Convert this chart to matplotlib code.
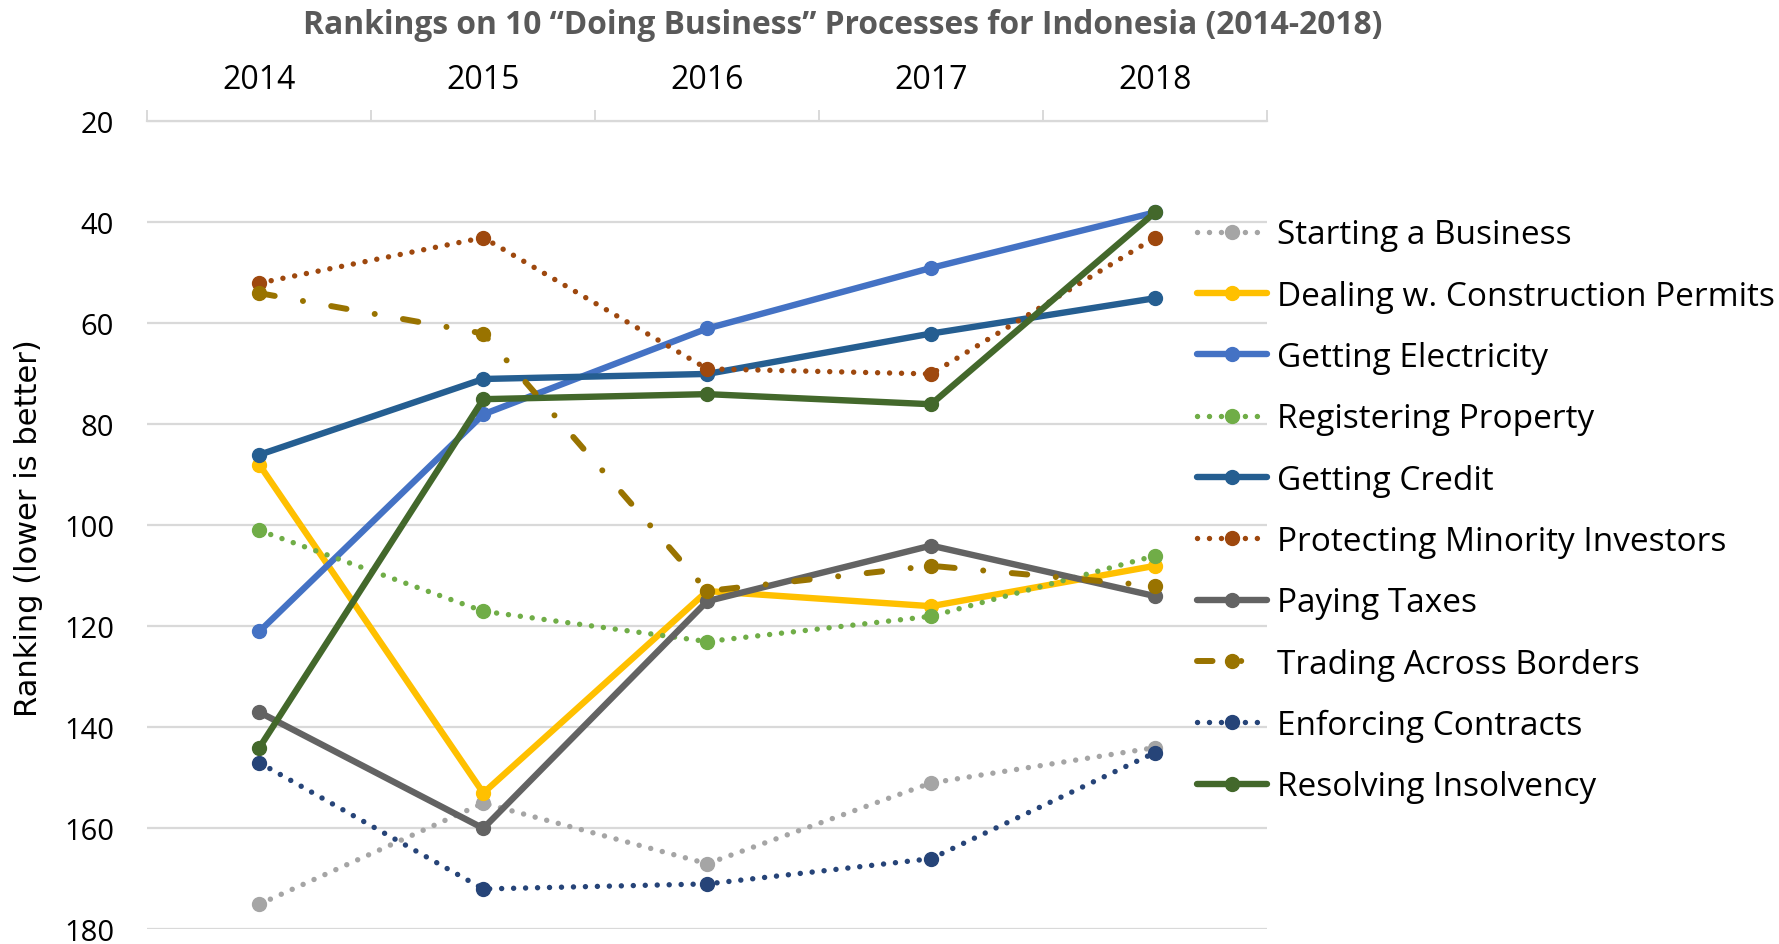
import matplotlib
matplotlib.use("Agg")
import matplotlib.pyplot as plt
from matplotlib import font_manager

years = ["2014", "2015", "2016", "2017", "2018"]

starting_business = [175, 155, 167, 151, 144]
construction_permits = [88, 153, 113, 116, 108]
getting_electricity = [121, 78, 61, 49, 38]
registering_property = [101, 117, 123, 118, 106]
getting_credit = [86, 71, 70, 62, 55]
minority_investors = [52, 43, 69, 70, 43]
paying_taxes = [137, 160, 115, 104, 114]
trading_borders = [54, 62, 113, 108, 112]
enforcing_contracts = [147, 172, 171, 166, 145]
resolving_insolvency = [144, 75, 74, 76, 38]

y_ticks = [20, 40, 60, 80, 100, 120, 140, 160, 180]

# pick a narrow face if the system has one
available = {f.name for f in font_manager.fontManager.ttflist}
main_font = next((n for n in ["Liberation Sans Narrow", "Open Sans", "DejaVu Sans"]
                  if n in available), "DejaVu Sans")
plt.rcParams["font.family"] = [main_font, "DejaVu Sans"]

# (dash pattern, line width); None pattern = solid
DOT = ((0.01, 2.2), 3.9)
DASHDOT = ((2.6, 4.8, 0.01, 4.8), 4.3)
SOLID = (None, 4.6)

series = [
    ("Starting a Business", starting_business, "#A5A5A5", DOT),
    ("Dealing w. Construction Permits", construction_permits, "#FFC000", SOLID),
    ("Getting Electricity", getting_electricity, "#4472C4", SOLID),
    ("Registering Property", registering_property, "#70AD47", DOT),
    ("Getting Credit", getting_credit, "#255E91", SOLID),
    ("Protecting Minority Investors", minority_investors, "#9E480E", DOT),
    ("Paying Taxes", paying_taxes, "#636363", SOLID),
    ("Trading Across Borders", trading_borders, "#997300", DASHDOT),
    ("Enforcing Contracts", enforcing_contracts, "#264478", DOT),
    ("Resolving Insolvency", resolving_insolvency, "#43682B", SOLID),
]

fig = plt.figure(figsize=(17.79, 9.45), dpi=100)
ax = fig.add_axes([0.0829, 0.0155, 0.6293, 0.8549])

x = list(range(len(years)))
for label, vals, color, (dashes, lw) in series:
    line, = ax.plot(x, vals, color=color, lw=lw, marker="o", markersize=10,
                    label=label, solid_capstyle="round", dash_capstyle="round")
    if dashes is not None:
        line.set_dashes(dashes)

ax.set_xlim(-0.5, len(years) - 0.5)
ax.set_ylim(180, 20)
ax.set_yticks(y_ticks)
ax.yaxis.grid(True, color="#D9D9D9", lw=1.6)
ax.set_axisbelow(True)

ax.xaxis.tick_top()
ax.set_xticks(x)
ax.set_xticklabels(years, fontsize=23)
ax.set_xticks([i - 0.5 for i in range(len(years) + 1)], minor=True)
ax.tick_params(axis="x", which="major", length=0, pad=18)
ax.tick_params(axis="x", which="minor", length=8, width=1.4, color="#D9D9D9")
ax.tick_params(axis="y", length=0, pad=24, labelsize=21)

for side in ["left", "right", "bottom"]:
    ax.spines[side].set_visible(False)
ax.spines["top"].set_color("#D9D9D9")
ax.spines["top"].set_linewidth(1.6)

fig.text(0.4739, 0.973, "Rankings on 10 \u201cDoing Business\u201d Processes for Indonesia (2014-2018)",
         ha="center", va="center", fontsize=22.9, fontweight="bold", color="#595959")
fig.text(0.016, 0.441, "Ranking (lower is better)", rotation=90, ha="center", va="center",
         fontsize=22, family="DejaVu Sans")

fig.legend(loc="upper left", bbox_to_anchor=(0.6729, 0.768), frameon=False, fontsize=24,
           handlelength=2.1, handletextpad=0.3, labelspacing=0.85, borderpad=0,
           borderaxespad=0)

fig.savefig("out.png", dpi=100)
